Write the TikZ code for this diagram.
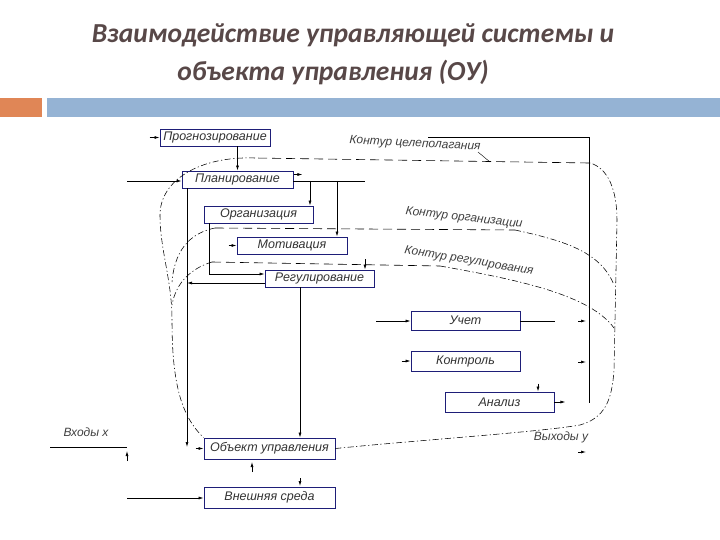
\documentclass[tikz,border=0pt]{standalone}
\usepackage{fontspec}
\setmainfont{Carlito}
\newfontfamily\gost{Liberation Sans}
\usetikzlibrary{arrows.meta,calc}
\definecolor{titlec}{RGB}{88,72,72}
\definecolor{orangebar}{RGB}{224,134,86}
\definecolor{bluebar}{RGB}{149,179,212}
\definecolor{boxc}{RGB}{30,30,120}
\begin{document}
\begin{tikzpicture}[x=1pt,y=-1pt,
  box/.style={draw=boxc, line width=0.9pt, fill=white, inner sep=0pt,
    font=\gost\itshape\fontsize{12.5}{14}\selectfont, text=black!80},
  ln/.style={line width=0.7pt},
  arr/.style={ln,-{Latex[length=5pt,width=3pt]}},
  dsh/.style={line width=0.6pt, dash pattern=on 9pt off 5pt},
  dd/.style={line width=0.55pt, dash pattern=on 6pt off 2.5pt on 1.2pt off 2.5pt},
  lab/.style={font=\gost\itshape\fontsize{12}{14}\selectfont, text=black!75, inner sep=0pt},
  ttl/.style={font=\bfseries\itshape\fontsize{27.5}{32}\selectfont, text=titlec, inner sep=0pt}]
\useasboundingbox (0,0) rectangle (720,540);
\fill[white] (0,0) rectangle (720,540);
% title
\node[ttl] (t1) at (353,35) {Взаимодействие управляющей системы и};
\node[ttl] (t2) at (333,72) {объекта управления (ОУ)};
% bars
\fill[orangebar] (0,98) rectangle (42,117);
\fill[bluebar] (47,98) rectangle (720,117);
% boxes
\node[box, minimum width=110pt, minimum height=17pt] (prog) at (215,137.5) {Прогнозирование};
\node[box, minimum width=111pt, minimum height=17pt] (plan) at (237.5,179.5) {Планирование};
\node[box, minimum width=109pt, minimum height=17pt] (org) at (258.5,214.5) {Организация};
\node[box, minimum width=110pt, minimum height=17pt] (motiv) at (292,245.5) {Мотивация};
\node[box, minimum width=109pt, minimum height=17pt] (reg) at (319.5,278.5) {Регулирование};
\node[box, minimum width=109pt, minimum height=19pt] (uchet) at (465.5,320.5) {Учет};
\node[box, minimum width=109pt, minimum height=20pt] (kontr) at (465.5,361) {Контроль};
\node[box, minimum width=109pt, minimum height=20pt] (anal) at (499.5,402) {Анализ};
\node[box, minimum width=131pt, minimum height=21pt] (obj) at (269.5,448.5) {Объект управления};
\node[box, minimum width=131pt, minimum height=21pt] (sreda) at (269.5,497.5) {Внешняя среда};
% labels
\node[lab, rotate=-3] (lc) at (415,144) {Контур целеполагания};
\node[lab, rotate=-6.5] (lo) at (464,218) {Контур организации};
\node[lab, rotate=-9.5] (lr) at (469,261) {Контур регулирования};
\node[lab] (lin) at (86,432) {Входы x};
\node[lab] (lout) at (561,437) {Выходы y};
% coordinates
\coordinate (inPlan) at (127,181);
\coordinate (planR) at (365,181);
\coordinate (b1) at (310,181);
\coordinate (b2) at (337,181);
\coordinate (tr) at (187,0);
\coordinate (tEnd) at (187,447);
\coordinate (o1) at (209,0);
\coordinate (r1) at (300,0);
\coordinate (rs) at (365,259);
\coordinate (uL) at (376,321);
\coordinate (uR) at (555,321);
\coordinate (fTop) at (428,137);
\coordinate (fCorner) at (589,137);
\coordinate (fBot) at (589,403);
\coordinate (inX) at (50,447);
\coordinate (inXe) at (127,447);
\coordinate (inS) at (127,498);
% connectors
\draw[arr] (prog.south -| plan.north) -- (plan.north);
\draw[arr] (inPlan) -- (inPlan -| plan.west);
\draw[ln] (plan.east |- planR) -- (planR);
\draw[arr] (b1) -- (b1 |- org.north);
\draw[arr] (b2) -- (b2 |- motiv.north);
\draw[arr] (plan.south -| tr) -- (tEnd);
\draw[arr] (org.south -| o1) |- ([yshift=4.5pt]reg.west);
\draw[arr] ([yshift=-4.5pt]reg.west) -- ([yshift=-4.5pt]reg.west -| tr);
\draw[arr] (reg.south -| r1) -- (r1 |- obj.north);
\draw[arr] (rs) -- (rs |- reg.north);
\draw[arr] (uL) -- (uchet.west |- uL);
\draw[ln] (uchet.east |- uR) -- (uR);
\draw[ln] (fTop) -- (fCorner) -- (fBot);
\draw[ln] (inX) -- (inXe);
\draw[arr] (inS) -- (inS -| sreda.west);
% stubs
\draw[arr] ([xshift=-10pt]prog.west) -- (prog.west);
\draw[arr] ([xshift=-8pt]motiv.west) -- (motiv.west);
\draw[arr] ([xshift=-9pt]kontr.west) -- (kontr.west);
\draw[arr] ([xshift=-8pt]obj.west) -- (obj.west);
\draw[arr] ([xshift=1pt,yshift=5pt]plan.east) -- ([xshift=9pt,yshift=5pt]plan.east);
\draw[arr] ([xshift=38.5pt,yshift=8pt]anal.north) -- ([xshift=38.5pt]anal.north);
\draw[arr] (anal.east) -- ([xshift=11pt]anal.east);
\draw[arr] (578,321) -- (586,321);
\draw[arr] (578,362) -- (586,362);
\draw[arr] (578,452) -- (586,452);
\draw[arr] (127,461) -- (127,451);
\draw[arr] (252,472) -- (252,462);
\draw[arr] (300,478) -- (300,486);
% contour: goal setting
\draw[dsh] (fCorner |- 0,163) -- (255,158);
\draw[dd] (255,158) .. controls (200,156) and (160,180) .. (160,215)
  .. controls (160,250) and (172,280) .. (172,320)
  .. controls (172,380) and (180,415) .. (obj.north west);
\draw[dd] (obj.east) .. controls (420,440) and (540,432) .. (580,425)
  .. controls (605,418) and (612,400) .. (614,370) -- (617,220)
  .. controls (617,190) and (608,168) .. (590,163);
\draw[ln, line width=0.4pt] (478,152) -- (490,162);
% contour: organisation
\draw[dsh] (215,228) -- (515,230);
\draw[dd] (515,230) .. controls (560,240) and (600,250) .. (614,285);
\draw[dd] (215,228) .. controls (195,232) and (175,245) .. (172,282);
% contour: regulation
\draw[dsh] (212,262) -- (440,266);
\draw[dd] (440,266) .. controls (520,280) and (590,295) .. (614,328);
\draw[dd] (212,262) .. controls (192,268) and (176,282) .. (172,305);
\end{tikzpicture}
\end{document}
